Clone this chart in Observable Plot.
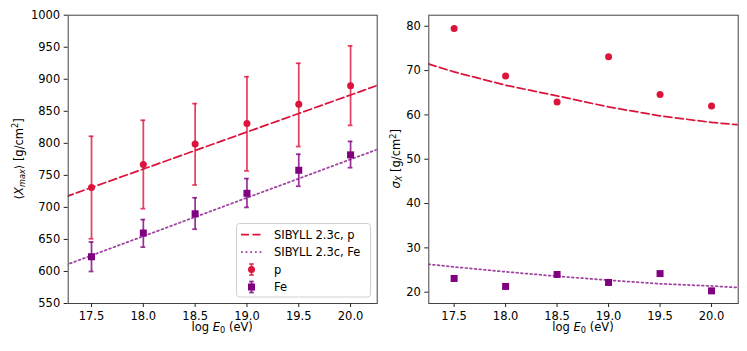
<!DOCTYPE html>
<html><head><meta charset="utf-8">
<script src="https://cdn.jsdelivr.net/npm/d3@7"></script>
<script src="https://cdn.jsdelivr.net/npm/@observablehq/plot@0.6"></script>
<style>
body{margin:0;background:#fff;font-family:"DejaVu Sans",sans-serif;}
#wrap{position:relative;width:747px;height:351px;display:flex;}
#wrap svg{display:block;}
#legend{position:absolute;left:0;top:0;pointer-events:none;}
</style></head><body><div id="wrap"></div>
<script>
// ---- data ----
const energies = [17.5, 18.0, 18.5, 19.0, 19.5, 20.0];
const pMean  = [731, 767, 799, 831, 861, 890];
const pLo    = [651, 698, 735, 757, 795, 828];
const pHi    = [811, 836, 862, 904, 925, 952];
const feMean = [623, 660, 690, 722, 758, 782];
const feLo   = [600, 638, 666, 700, 733, 762];
const feHi   = [646, 681, 715, 745, 783, 803];
const pSigma  = [79.5, 68.8, 62.9, 73.1, 64.6, 62.0];
const feSigma = [23.1, 21.3, 24.0, 22.2, 24.2, 20.3];
const modelE       = [17.25, 17.5, 18.0, 18.5, 19.0, 19.5, 20.0, 20.3];
const pModelMean   = [716.6, 731.0, 759.9, 788.8, 817.7, 846.6, 875.5, 892.8];
const feModelMean  = [610.0, 625.0, 655.0, 685.0, 715.0, 745.0, 775.0, 793.0];
const pModelSigma  = [71.5, 69.7, 66.7, 64.3, 61.8, 59.8, 58.3, 57.7];
const feModelSigma = [26.3, 25.7, 24.6, 23.6, 22.7, 21.9, 21.4, 21.0];
const xTicks = [17.5, 18.0, 18.5, 19.0, 19.5, 20.0];
const yTicksLeft = [550, 600, 650, 700, 750, 800, 850, 900, 950, 1000];
const yTicksRight = [20, 30, 40, 50, 60, 70, 80];
const legendLabels = ["SIBYLL 2.3c, p", "SIBYLL 2.3c, Fe", "p", "Fe"];

const RED = "#dc143c", PURPLE = "#800080";
const FS = 11.5, SUB = 8.2, LW = 1.75;
const pts = energies.map((e, i) => ({e, pM: pMean[i], pLo: pLo[i], pHi: pHi[i],
  fM: feMean[i], fLo: feLo[i], fHi: feHi[i], pS: pSigma[i], fS: feSigma[i]}));
const model = modelE.map((e, i) => ({e, pM: pModelMean[i], fM: feModelMean[i], pS: pModelSigma[i], fS: feModelSigma[i]}));

const style = {fontFamily: "DejaVu Sans", fontSize: FS + "px", color: "#000", background: "white", overflow: "visible"};
const axisOpts = {tickSize: 4, tickPadding: 4, label: null, stroke: "#222"};
const CAP = 0.023;
const DASH = "8,3.5", DOT = "1.75,2.9";

function errMarks(lo, hi, color, op) {
  return [
    Plot.ruleX(pts, {x: "e", y1: lo, y2: hi, stroke: color, strokeWidth: LW, strokeOpacity: op}),
    Plot.ruleY(pts, {y: lo, x1: d => d.e - CAP, x2: d => d.e + CAP, stroke: color, strokeWidth: LW, strokeOpacity: op}),
    Plot.ruleY(pts, {y: hi, x1: d => d.e - CAP, x2: d => d.e + CAP, stroke: color, strokeWidth: LW, strokeOpacity: op})
  ];
}

const left = Plot.plot({
  width: 380, height: 351,
  marginLeft: 67.7, marginRight: 3.3, marginTop: 14.7, marginBottom: 48,
  x: {domain: [17.275, 20.257]},
  y: {domain: [550, 1000]},
  style,
  marks: [
    Plot.line(model, {x: "e", y: "pM", stroke: RED, strokeWidth: LW, strokeDasharray: DASH, clip: true}),
    Plot.line(model, {x: "e", y: "fM", stroke: PURPLE, strokeOpacity: 0.75, strokeWidth: LW, strokeDasharray: DOT, clip: true}),
    ...errMarks("pLo", "pHi", RED, 0.8),
    Plot.dot(pts, {x: "e", y: "pM", r: 3.5, fill: RED, symbol: "circle"}),
    ...errMarks("fLo", "fHi", PURPLE, 0.8),
    Plot.dot(pts, {x: "e", y: "fM", r: 3.95, fill: PURPLE, symbol: "square"}),
    Plot.frame({stroke: "#444", strokeWidth: 1}),
    Plot.axisX({...axisOpts, ticks: xTicks, tickFormat: d3.format(".1f")}),
    Plot.axisY({...axisOpts, ticks: yTicksLeft, tickFormat: d3.format("d")})
  ]
});

const right = Plot.plot({
  width: 367, height: 351,
  marginLeft: 48.3, marginRight: 9.3, marginTop: 14.7, marginBottom: 48,
  x: {domain: [17.254, 20.259]},
  y: {domain: [17.45, 82.5]},
  style,
  marks: [
    Plot.line(model, {x: "e", y: "pS", stroke: RED, strokeWidth: LW, strokeDasharray: DASH, clip: true}),
    Plot.line(model, {x: "e", y: "fS", stroke: PURPLE, strokeOpacity: 0.75, strokeWidth: LW, strokeDasharray: DOT, clip: true}),
    Plot.dot(pts, {x: "e", y: "pS", r: 3.5, fill: RED, symbol: "circle"}),
    Plot.dot(pts, {x: "e", y: "fS", r: 3.95, fill: PURPLE, symbol: "square"}),
    Plot.frame({stroke: "#444", strokeWidth: 1}),
    Plot.axisX({...axisOpts, ticks: xTicks, tickFormat: d3.format(".1f")}),
    Plot.axisY({...axisOpts, ticks: yTicksRight, tickFormat: d3.format("d")})
  ]
});

const wrap = document.getElementById("wrap");
wrap.append(left, right);

// axis labels with sub/superscripts
function xLabel(svg, cx) {
  const t = d3.select(svg).append("text").attr("x", cx).attr("y", 331)
    .attr("text-anchor", "middle").attr("font-family", "DejaVu Sans").attr("font-size", FS).attr("fill", "#000");
  t.append("tspan").text("log ");
  t.append("tspan").attr("font-style", "italic").text("E");
  t.append("tspan").attr("font-size", SUB).attr("dy", 2.3).text("0");
  t.append("tspan").attr("dy", -2.3).text(" (eV)");
}
function yLabel(svg, x, cy, parts) {
  const t = d3.select(svg).append("text").attr("transform", `translate(${x},${cy}) rotate(-90)`)
    .attr("text-anchor", "middle").attr("font-family", "DejaVu Sans").attr("font-size", FS).attr("fill", "#000");
  parts(t);
}
xLabel(left, (67.7 + 376.7) / 2);
xLabel(right, (48.3 + 357.7) / 2);
yLabel(left, 22.7, (14.7 + 303) / 2, t => {
  t.append("tspan").text("\u27E8");
  t.append("tspan").attr("font-style", "italic").text("X");
  t.append("tspan").attr("font-style", "italic").attr("font-size", SUB).attr("dy", 2.3).text("max");
  t.append("tspan").attr("dy", -2.3).text("\u27E9 [g/cm");
  t.append("tspan").attr("font-size", SUB).attr("dy", -4.3).text("2");
  t.append("tspan").attr("dy", 4.3).text("]");
});
yLabel(right, 20, (14.7 + 303) / 2, t => {
  t.append("tspan").attr("font-style", "italic").text("\u03C3");
  t.append("tspan").attr("font-style", "italic").attr("font-size", SUB).attr("dy", 2.3).text("X");
  t.append("tspan").attr("dy", -2.3).text(" [g/cm");
  t.append("tspan").attr("font-size", SUB).attr("dy", -4.3).text("2");
  t.append("tspan").attr("dy", 4.3).text("]");
});

// legend overlay
const lg = d3.select(wrap).append("svg").attr("id", "legend").attr("width", 747).attr("height", 351);
lg.append("rect").attr("x", 236.5).attr("y", 223.5).attr("width", 134).attr("height", 73.5)
  .attr("rx", 3).attr("fill", "rgba(255,255,255,0.8)").attr("stroke", "#d0d0d0").attr("stroke-width", 1);
const rowsY = [234.5, 252, 269.5, 287];
lg.append("line").attr("x1", 241).attr("x2", 262).attr("y1", rowsY[0]).attr("y2", rowsY[0])
  .attr("stroke", RED).attr("stroke-width", LW).attr("stroke-dasharray", DASH);
lg.append("line").attr("x1", 241).attr("x2", 262).attr("y1", rowsY[1]).attr("y2", rowsY[1])
  .attr("stroke", PURPLE).attr("stroke-opacity", 0.75).attr("stroke-width", LW).attr("stroke-dasharray", DOT);
[[RED, "circle"], [PURPLE, "square"]].forEach(([c, s], i) => {
  const y = rowsY[2 + i];
  lg.append("line").attr("x1", 251.5).attr("x2", 251.5).attr("y1", y - 5.5).attr("y2", y + 5.5).attr("stroke", c).attr("stroke-width", LW).attr("stroke-opacity", 0.8);
  lg.append("line").attr("x1", 249.2).attr("x2", 253.8).attr("y1", y - 5.5).attr("y2", y - 5.5).attr("stroke", c).attr("stroke-width", LW).attr("stroke-opacity", 0.8);
  lg.append("line").attr("x1", 249.2).attr("x2", 253.8).attr("y1", y + 5.5).attr("y2", y + 5.5).attr("stroke", c).attr("stroke-width", LW).attr("stroke-opacity", 0.8);
  if (s === "circle") lg.append("circle").attr("cx", 251.5).attr("cy", y).attr("r", 3.5).attr("fill", c);
  else lg.append("rect").attr("x", 251.5 - 3.5).attr("y", y - 3.5).attr("width", 7).attr("height", 7).attr("fill", c);
});
legendLabels.forEach((lab, i) => {
  lg.append("text").attr("x", 274).attr("y", rowsY[i]).attr("dy", "0.35em")
    .attr("font-family", "DejaVu Sans").attr("font-size", FS).attr("fill", "#000").text(lab);
});
</script>
</body></html>
